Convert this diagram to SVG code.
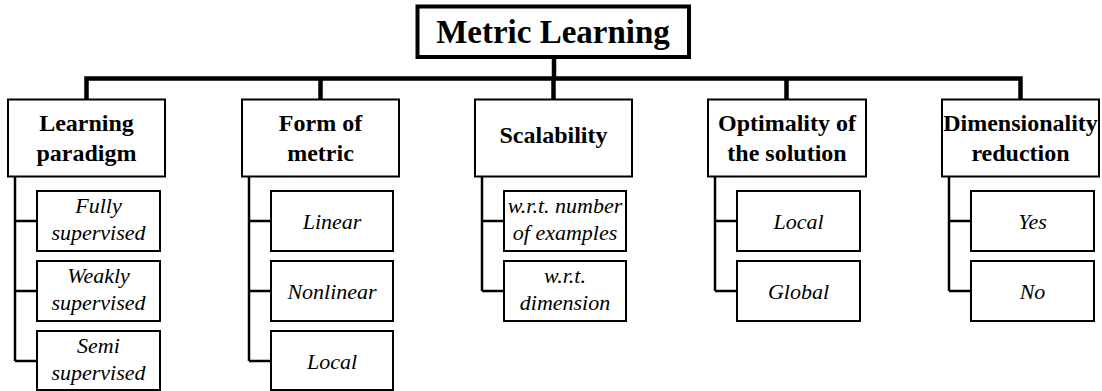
<svg xmlns="http://www.w3.org/2000/svg" width="1102" height="391" viewBox="0 0 1102 391">
<style>
.root{fill:#fff;stroke:#000;stroke-width:4}
.cat{fill:#fff;stroke:#000;stroke-width:2}
.sub{fill:#fff;stroke:#000;stroke-width:2}
.bus{fill:none;stroke:#000;stroke-width:4.5;stroke-linecap:square}
.br{fill:none;stroke:#000;stroke-width:2.5}
text{font-family:'Liberation Serif',Tinos,'Times New Roman',Times,serif;text-anchor:middle;fill:#000}
.tr{font-weight:bold;font-size:33px}
.tc{font-weight:bold;font-size:24px}
.ts{font-style:italic;font-size:22px}
</style>
<rect width="1102" height="391" fill="#fff"/>
<g id="connectors">
<path class="bus" d="M554 57V78.5M86.5 78.5H1020.5M86.5 78.5V99M320.5 78.5V99M553.5 78.5V99M786.5 78.5V99M1020.5 78.5V99"/>
<path class="br" d="M15 176.5V361M15 221H37M15 291H37M15 361H37"/>
<path class="br" d="M249 176.5V361M249 221H271M249 291H271M249 361H271"/>
<path class="br" d="M482 176.5V291M482 221H504M482 291H504"/>
<path class="br" d="M715 176.5V291M715 221H737M715 291H737"/>
<path class="br" d="M949 176.5V291M949 221H971M949 291H971"/>
</g>
<g id="root">
<rect class="root" x="417.5" y="6.5" width="271.5" height="50.5"/>
<text class="tr" x="553" y="42.5" font-family="Liberation Serif, serif">Metric Learning</text>
</g>
<g id="learning-paradigm">
<rect class="cat" x="8" y="99.5" width="157" height="77"/>
<text class="tc" x="86.5" y="130.5">Learning</text>
<text class="tc" x="86.5" y="160.5">paradigm</text>
</g>
<g id="fully-supervised">
<rect class="sub" x="37" y="191" width="123" height="60"/>
<text class="ts" x="98.5" y="212.5">Fully</text>
<text class="ts" x="98.5" y="239.5">supervised</text>
</g>
<g id="weakly-supervised">
<rect class="sub" x="37" y="261" width="123" height="60"/>
<text class="ts" x="98.5" y="282.5">Weakly</text>
<text class="ts" x="98.5" y="309.5">supervised</text>
</g>
<g id="semi-supervised">
<rect class="sub" x="37" y="331" width="123" height="59"/>
<text class="ts" x="98.5" y="352.5">Semi</text>
<text class="ts" x="98.5" y="379.5">supervised</text>
</g>
<g id="form-of-metric">
<rect class="cat" x="242" y="99.5" width="157" height="77"/>
<text class="tc" x="320.5" y="131">Form of</text>
<text class="tc" x="320.5" y="161">metric</text>
</g>
<g id="linear">
<rect class="sub" x="271" y="191" width="122" height="60"/>
<text class="ts" x="332" y="228.5">Linear</text>
</g>
<g id="nonlinear">
<rect class="sub" x="271" y="261" width="122" height="60"/>
<text class="ts" x="332" y="298.5">Nonlinear</text>
</g>
<g id="local-metric">
<rect class="sub" x="271" y="331" width="122" height="59"/>
<text class="ts" x="332" y="368.5">Local</text>
</g>
<g id="scalability">
<rect class="cat" x="475" y="99.5" width="157" height="77"/>
<text class="tc" x="553.5" y="143">Scalability</text>
</g>
<g id="wrt-examples">
<rect class="sub" x="504" y="191" width="122" height="60"/>
<text class="ts" x="565" y="212.5">w.r.t. number</text>
<text class="ts" x="565" y="239.5">of examples</text>
</g>
<g id="wrt-dimension">
<rect class="sub" x="504" y="261" width="122" height="60"/>
<text class="ts" x="565" y="282.5">w.r.t.</text>
<text class="ts" x="565" y="309.5">dimension</text>
</g>
<g id="optimality">
<rect class="cat" x="708" y="99.5" width="158" height="77"/>
<text class="tc" x="787" y="131">Optimality of</text>
<text class="tc" x="787" y="161">the solution</text>
</g>
<g id="local-solution">
<rect class="sub" x="737" y="191" width="123" height="60"/>
<text class="ts" x="798.5" y="228.5">Local</text>
</g>
<g id="global">
<rect class="sub" x="737" y="261" width="123" height="60"/>
<text class="ts" x="798.5" y="298.5">Global</text>
</g>
<g id="dimensionality-reduction">
<rect class="cat" x="942" y="99.5" width="157" height="77"/>
<text class="tc" x="1020.5" y="131">Dimensionality</text>
<text class="tc" x="1020.5" y="161">reduction</text>
</g>
<g id="yes">
<rect class="sub" x="971" y="191" width="123" height="60"/>
<text class="ts" x="1032.5" y="228.5">Yes</text>
</g>
<g id="no">
<rect class="sub" x="971" y="261" width="123" height="60"/>
<text class="ts" x="1032.5" y="298.5">No</text>
</g>
</svg>
